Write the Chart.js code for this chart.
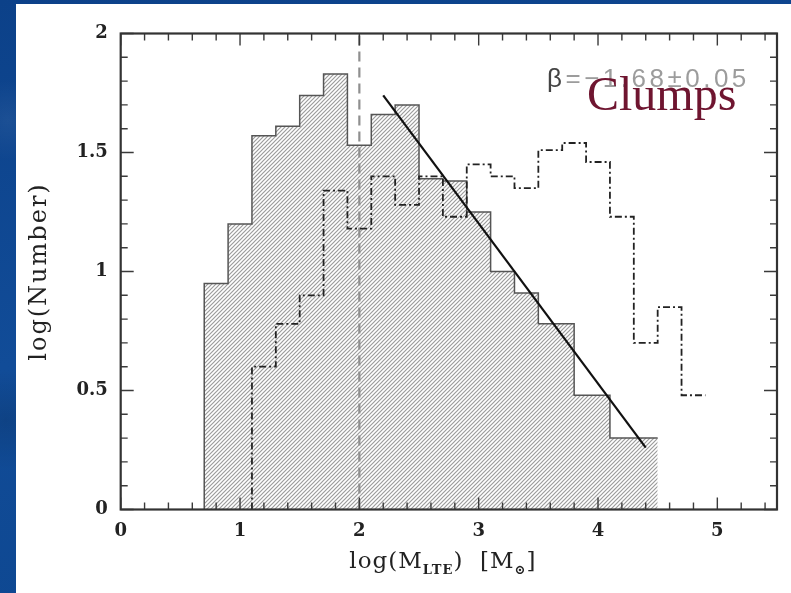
<!DOCTYPE html>
<html lang="en">
<head>
<meta charset="UTF-8">
<title>Clump mass spectrum</title>
<script src="https://cdn.jsdelivr.net/npm/chart.js"></script>
<style>
  html, body { margin: 0; padding: 0; }
  body {
    width: 791px;
    height: 593px;
    overflow: hidden;
    background:
      radial-gradient(circle at 8px 120px, rgba(255,255,255,0.06), transparent 40px),
      radial-gradient(circle at 6px 420px, rgba(0,0,0,0.12), transparent 50px),
      linear-gradient(170deg, #0c4189, #114c98 50%, #0d468f);
  }
  .panel {
    position: absolute;
    left: 16px;
    top: 4px;
    width: 775px;
    height: 589px;
    background: #fff;
  }
</style>
</head>
<body>

<div class="panel"><canvas id="massChart" width="775" height="589"></canvas></div>

<script>
  // shaded histogram (bin edges in log M, heights in log N)
  const shadedEdges = [0.7, 0.9, 1.1, 1.3, 1.5, 1.7, 1.9, 2.1, 2.3, 2.5, 2.7, 2.9, 3.1, 3.3, 3.5, 3.8, 4.1, 4.5];
  const shadedLogN = [0.95, 1.20, 1.57, 1.61, 1.74, 1.83, 1.53, 1.66, 1.70, 1.39, 1.38, 1.25, 1.00, 0.91, 0.78, 0.48, 0.30];

  // dash-dot histogram
  const dashEdges = [1.1, 1.3, 1.5, 1.7, 1.9, 2.1, 2.3, 2.5, 2.7, 2.9, 3.1, 3.3, 3.5, 3.7, 3.9, 4.1, 4.3, 4.5, 4.7, 4.9];
  const dashLogN = [0.60, 0.78, 0.90, 1.34, 1.18, 1.40, 1.28, 1.40, 1.23, 1.45, 1.40, 1.35, 1.51, 1.54, 1.46, 1.23, 0.70, 0.85, 0.48];

  // power-law fit and the vertical mass cut
  const fitLogM = [2.2, 4.4];
  const fitLogN = [1.74, 0.26];
  const cutLogM = 2;

  const xTicks = [0, 1, 2, 3, 4, 5];
  const yTicks = [0, 0.5, 1, 1.5, 2];

  function histPoints(edges, vals) {
    const pts = [{ x: edges[0], y: 0 }];
    vals.forEach((v, i) => pts.push({ x: edges[i], y: v }));
    pts.push({ x: edges[edges.length - 1], y: vals[vals.length - 1] });
    return pts;
  }

  // diagonal hatch
  const tile = document.createElement('canvas');
  tile.width = 4; tile.height = 4;
  const tc = tile.getContext('2d');
  tc.strokeStyle = '#9c9c9c';
  tc.lineWidth = 1.2;
  tc.beginPath();
  tc.moveTo(-1, 5); tc.lineTo(5, -1);
  tc.moveTo(-1, 1); tc.lineTo(1, -1);
  tc.moveTo(3, 5); tc.lineTo(5, 3);
  tc.stroke();
  const hatch = tc.createPattern(tile, 'repeat');

  const frame = {
    id: 'frame',
    afterDatasetsDraw(chart) {
      const { ctx, chartArea: a, scales: { x, y } } = chart;
      ctx.save();
      ctx.strokeStyle = '#3a3a3a';
      ctx.lineWidth = 1.4;
      ctx.beginPath();
      for (let i = 0; i <= 27; i++) {
        const px = x.getPixelForValue(i * 0.2);
        const len = i % 5 === 0 ? 12 : 7;
        ctx.moveTo(px, a.bottom); ctx.lineTo(px, a.bottom - len);
        ctx.moveTo(px, a.top); ctx.lineTo(px, a.top + len);
      }
      for (let i = 0; i <= 20; i++) {
        const py = y.getPixelForValue(i * 0.1);
        const len = i % 5 === 0 ? 13 : 7;
        ctx.moveTo(a.left, py); ctx.lineTo(a.left + len, py);
        ctx.moveTo(a.right, py); ctx.lineTo(a.right - len, py);
      }
      ctx.stroke();
      ctx.lineWidth = 2.2;
      ctx.strokeStyle = '#333';
      ctx.strokeRect(a.left, a.top, a.width, a.height);

      // y title
      ctx.fillStyle = '#222';
      ctx.save();
      ctx.translate(24, (a.top + a.bottom) / 2);
      ctx.rotate(-Math.PI / 2);
      ctx.font = '24px "DejaVu Serif"';
      ctx.letterSpacing = '2px';
      ctx.textAlign = 'center';
      ctx.textBaseline = 'middle';
      ctx.fillText('log(Number)', 0, 0);
      ctx.restore();

      // x title with subscripts
      const main = '23px "DejaVu Serif"';
      const sub = 'bold 13px "DejaVu Serif"';
      const parts = [['log(M', main, 0], ['LTE', sub, 6], [')  [M', main, 0], ['\u2299', sub, 6], [']', main, 0]];
      ctx.letterSpacing = '1px';
      let total = 0;
      parts.forEach(p => { ctx.font = p[1]; total += ctx.measureText(p[0]).width; });
      let cx = x.getPixelForValue(2.7) - total / 2;
      const base = a.bottom + 58;
      ctx.textAlign = 'left';
      ctx.textBaseline = 'alphabetic';
      parts.forEach(p => {
        ctx.font = p[1];
        ctx.fillText(p[0], cx, base + p[2]);
        cx += ctx.measureText(p[0]).width;
      });

      // fit annotation
      ctx.font = '26px "Liberation Sans"';
      ctx.letterSpacing = '3.5px';
      ctx.textBaseline = 'middle';
      ctx.fillStyle = '#444';
      ctx.fillText('\u03b2', 531, 76);
      const bw = ctx.measureText('\u03b2').width;
      ctx.fillStyle = '#9c9c9c';
      ctx.fillText('=\u22121.68\u00b10.05', 531 + bw, 76);

      ctx.letterSpacing = '0px';
      ctx.font = '48px "Liberation Serif"';
      ctx.textBaseline = 'alphabetic';
      ctx.fillStyle = '#6f1530';
      ctx.fillText('Clumps', 571, 106);
      ctx.restore();
    }
  };

  const tickFont = { family: 'DejaVu Serif', size: 18, weight: 'bold' };

  new Chart(document.getElementById('massChart'), {
    type: 'line',
    data: {
      datasets: [
        {
          label: 'fit',
          data: fitLogM.map((v, i) => ({ x: v, y: fitLogN[i] })),
          borderColor: '#111',
          borderWidth: 2.2,
          pointRadius: 0,
          order: 0
        },
        {
          label: 'all',
          data: histPoints(dashEdges, dashLogN),
          stepped: 'before',
          borderColor: '#222',
          borderWidth: 1.8,
          borderDash: [7, 3, 2, 3],
          pointRadius: 0,
          order: 1
        },
        {
          label: 'cut',
          data: [{ x: cutLogM, y: 0 }, { x: cutLogM, y: 2 }],
          borderColor: '#8f8f8f',
          borderWidth: 2.2,
          borderDash: [10, 6],
          pointRadius: 0,
          order: 2
        },
        {
          label: 'LTE',
          data: histPoints(shadedEdges, shadedLogN),
          stepped: 'before',
          borderColor: '#555',
          borderWidth: 1.5,
          backgroundColor: hatch,
          fill: 'origin',
          pointRadius: 0,
          order: 3
        }
      ]
    },
    options: {
      responsive: false,
      animation: false,
      layout: { padding: { left: 0, top: 29.5, right: 14, bottom: 0 } },
      plugins: {
        legend: { display: false },
        tooltip: { enabled: false }
      },
      scales: {
        x: {
          type: 'linear',
          min: 0,
          max: 5.5,
          afterBuildTicks: s => { s.ticks = xTicks.map(v => ({ value: v })); },
          afterFit: s => { s.height = 83.5; },
          grid: { display: false, drawTicks: false },
          border: { display: false },
          ticks: { padding: 11, font: tickFont, color: '#222', maxRotation: 0, autoSkip: false, callback: v => String(v) }
        },
        y: {
          min: 0,
          max: 2,
          afterBuildTicks: s => { s.ticks = yTicks.map(v => ({ value: v })); },
          afterFit: s => { s.width = 104.7; },
          grid: { display: false, drawTicks: false },
          border: { display: false },
          ticks: { padding: 13, font: tickFont, color: '#222', autoSkip: false, callback: v => String(v) }
        }
      }
    },
    plugins: [frame]
  });
</script>

</body>
</html>
